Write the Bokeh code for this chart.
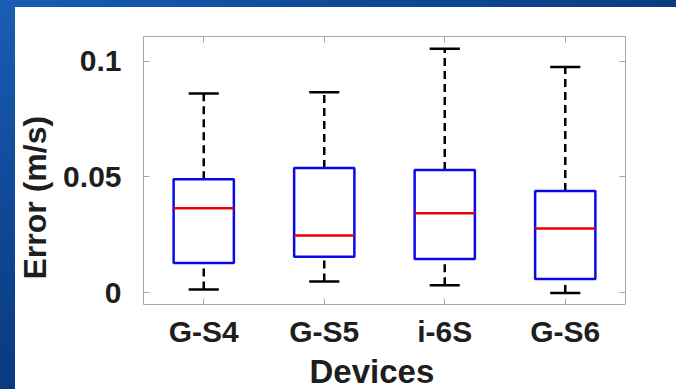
from bokeh.plotting import figure
from bokeh.models import (FactorRange, Range1d, FixedTicker, LinearAxis,
                          CategoricalAxis, Title)
from bokeh.layouts import column
from bokeh.transform import dodge
from bokeh.embed import file_html
from bokeh.resources import INLINE

# ---- data ----
devices = ["G-S4", "G-S5", "i-6S", "G-S6"]
lower_whisker = [0.0015, 0.0049, 0.0033, 0.0000]
q1 = [0.0129, 0.0156, 0.0146, 0.0060]
median = [0.0365, 0.0248, 0.0344, 0.0278]
q3 = [0.0490, 0.0539, 0.0530, 0.0440]
upper_whisker = [0.0860, 0.0865, 0.1053, 0.0974]
y_ticks = [0, 0.05, 0.1]
y_tick_labels = ["0", "0.05", "0.1"]
x_title = "Devices"
y_title = "Error (m/s)"

FONT = "Liberation Sans"
TXT = "#1e1e1e"
FRAME = "#a8a8a8"

src = dict(cats=devices, lo=lower_whisker, q1=q1, med=median, q3=q3, hi=upper_whisker)

p = figure(width=676, height=389, x_range=FactorRange(*devices),
           y_range=Range1d(-0.005, 0.1106), output_backend="svg",
           toolbar_location=None,
           min_border_left=143, min_border_right=51, min_border_top=36,
           min_border_bottom=84)
p.background_fill_color = "white"
p.border_fill_alpha = 0
p.outline_line_color = FRAME
p.outline_line_width = 1
p.xgrid.visible = False
p.ygrid.visible = False

# whiskers (dashed)
p.segment(x0="cats", y0="q3", x1="cats", y1="hi", source=src,
          line_color="black", line_width=2.5, line_dash="8 5")
p.segment(x0="cats", y0="lo", x1="cats", y1="q1", source=src,
          line_color="black", line_width=2.5, line_dash="8 5")
# whisker caps
p.segment(x0=dodge("cats", -0.125, range=p.x_range), y0="hi",
          x1=dodge("cats", 0.125, range=p.x_range), y1="hi", source=src,
          line_color="black", line_width=2.5)
p.segment(x0=dodge("cats", -0.125, range=p.x_range), y0="lo",
          x1=dodge("cats", 0.125, range=p.x_range), y1="lo", source=src,
          line_color="black", line_width=2.5)
# boxes
p.vbar(x="cats", width=0.5, bottom="q1", top="q3", source=src,
       fill_color="white", line_color="#0a0ae6", line_width=2.5)
# medians
p.segment(x0=dodge("cats", -0.25, range=p.x_range), y0="med",
          x1=dodge("cats", 0.25, range=p.x_range), y1="med", source=src,
          line_color="#ee0000", line_width=2.5)


def style(ax):
    ax.axis_line_color = None
    ax.major_tick_line_color = FRAME
    ax.major_tick_in = 6
    ax.major_tick_out = 0
    ax.minor_tick_line_color = None
    ax.major_label_text_font = FONT
    ax.major_label_text_font_style = "bold"
    ax.major_label_text_font_size = "30px"
    ax.major_label_text_color = TXT


xa = p.xaxis[0]
style(xa)
xa.major_label_standoff = 10

ya = p.yaxis[0]
style(ya)
ya.ticker = FixedTicker(ticks=y_ticks)
ya.major_label_overrides = {t: l for t, l in zip(y_ticks, y_tick_labels)}
ya.major_label_standoff = 22

# mirrored tick marks on the right and top (no labels drawn there)
ra = LinearAxis(ticker=FixedTicker(ticks=y_ticks))
style(ra)
ra.major_label_text_color = None
ra.major_label_text_font_size = "1px"
ra.major_label_standoff = 0
p.add_layout(ra, "right")
ta = CategoricalAxis()
style(ta)
ta.major_label_text_color = None
ta.major_label_text_font_size = "1px"
ta.major_label_standoff = 0
p.add_layout(ta, "above")

# axis titles (slightly off-centre in the reference)
p.add_layout(Title(text=x_title, align="left", offset=166, standoff=0,
                   text_font=FONT, text_font_style="bold", text_font_size="33px",
                   text_color=TXT), "below")
p.add_layout(Title(text=y_title, align="left", offset=25, standoff=16,
                   text_font=FONT, text_font_style="bold", text_font_size="32px",
                   text_color=TXT), "left")

bg = ("linear-gradient(180deg, #1a5db3 0%, #0f4896 55%, #0a3a80 100%) left top / 15px 100% no-repeat, "
      "linear-gradient(90deg, #1a5db3 0%, #0f4a98 50%, #0c3c80 100%) left top / 100% 7px no-repeat, "
      "#ffffff")
page = column(p, width=676, height=389, sizing_mode="fixed", styles={"background": bg})

open("out.html", "w").write(file_html(page, INLINE))
